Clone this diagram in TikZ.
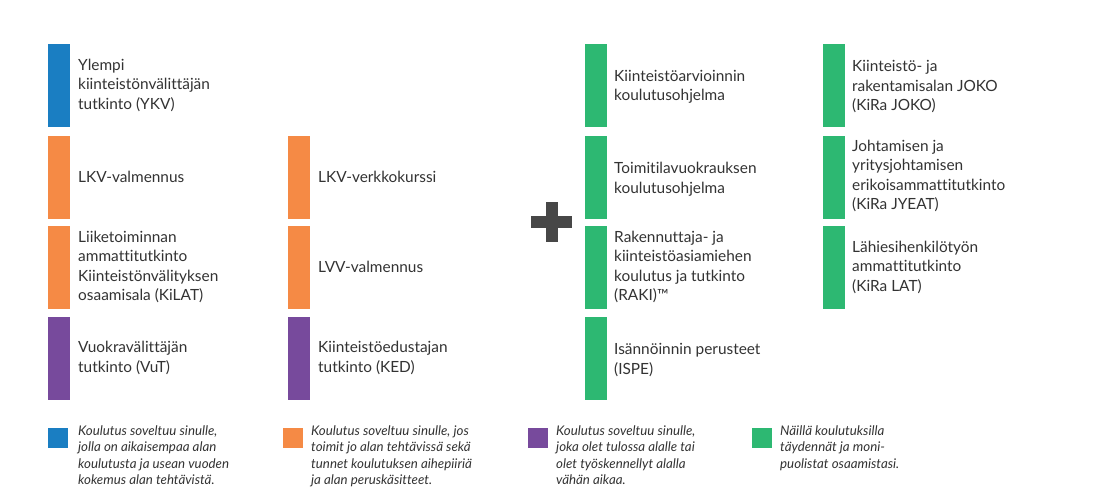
\documentclass[tikz,border=0pt]{standalone}
\usepackage{fontspec}
\setmainfont{Lato}[Ligatures=NoCommon]
\definecolor{cblue}{HTML}{1A7EC2}
\definecolor{corange}{HTML}{F58A45}
\definecolor{cpurple}{HTML}{774A9C}
\definecolor{cgreen}{HTML}{2DB872}
\definecolor{ctext}{HTML}{333333}
\begin{document}
\begin{tikzpicture}[x=1pt,y=-1pt,
  bar/.style={minimum width=22pt,minimum height=83pt,inner sep=0pt,anchor=north west},
  lbl/.style={anchor=west,align=left,text=ctext,font=\fontsize{15.4}{19.5}\selectfont,inner sep=0pt},
  sq/.style={minimum size=20pt,inner sep=0pt,anchor=north west},
  leg/.style={anchor=north west,align=left,text=ctext,font=\fontsize{13.3}{16.6}\selectfont\itshape,inner sep=0pt}]
\useasboundingbox[fill=white] (0,0) rectangle (1100,501);
% column 1
\node[bar,fill=cblue] (a1) at (48,44) {};
\node[lbl] at (78,85) {Ylempi\\kiinteistönvälittäjän\\tutkinto (YKV)};
\node[bar,fill=corange] (a2) at (48,136) {};
\node[lbl] at (78,177) {LKV-valmennus};
\node[bar,fill=corange] (a3) at (48,226) {};
\node[lbl] at (78,267) {Liiketoiminnan\\ammattitutkinto\\Kiinteistönvälityksen\\osaamisala (KiLAT)};
\node[bar,fill=cpurple] (a4) at (48,317) {};
\node[lbl] at (78,358) {Vuokravälittäjän\\tutkinto (VuT)};
% column 2
\node[bar,fill=corange] (b2) at (288,136) {};
\node[lbl] at (318,177) {LKV-verkkokurssi};
\node[bar,fill=corange] (b3) at (288,226) {};
\node[lbl] at (318,267) {LVV-valmennus};
\node[bar,fill=cpurple] (b4) at (288,317) {};
\node[lbl] at (318,358) {Kiinteistöedustajan\\tutkinto (KED)};
% plus
\fill[ctext!90] (531,216) rectangle (572,228);
\fill[ctext!90] (545.5,202) rectangle (557.5,242);
% column 3
\node[bar,fill=cgreen] (c1) at (585,44) {};
\node[lbl] at (614,87) {Kiinteistöarvioinnin\\koulutusohjelma};
\node[bar,fill=cgreen] (c2) at (585,136) {};
\node[lbl] at (614,179) {Toimitilavuokrauksen\\koulutusohjelma};
\node[bar,fill=cgreen] (c3) at (585,226) {};
\node[lbl] at (614,267) {Rakennuttaja- ja\\kiinteistöasiamiehen\\koulutus ja tutkinto\\(RAKI)™};
\node[bar,fill=cgreen] (c4) at (585,317) {};
\node[lbl] at (614,360) {Isännöinnin perusteet\\(ISPE)};
% column 4
\node[bar,fill=cgreen] (d1) at (823,44) {};
\node[lbl] at (852,87) {Kiinteistö- ja\\rakentamisalan JOKO\\(KiRa JOKO)};
\node[bar,fill=cgreen] (d2) at (823,136) {};
\node[lbl] at (852,176) {Johtamisen ja\\yritysjohtamisen\\erikoisammattitutkinto\\(KiRa JYEAT)};
\node[bar,fill=cgreen] (d3) at (823,226) {};
\node[lbl] at (852,267) {Lähiesihenkilötyön\\ammattitutkinto\\(KiRa LAT)};
% legend
\node[sq,fill=cblue] (l1) at (48,428) {};
\node[leg] at (78,425) {Koulutus soveltuu sinulle,\\jolla on aikaisempaa alan\\koulutusta ja usean vuoden\\kokemus alan tehtävistä.};
\node[sq,fill=corange] (l2) at (283,428) {};
\node[leg] at (311,425) {Koulutus soveltuu sinulle, jos\\toimit jo alan tehtävissä sekä\\tunnet koulutuksen aihepiiriä\\ja alan peruskäsitteet.};
\node[sq,fill=cpurple] (l3) at (528,428) {};
\node[leg] at (556,425) {Koulutus soveltuu sinulle,\\joka olet tulossa alalle tai\\olet työskennellyt alalla\\vähän aikaa.};
\node[sq,fill=cgreen] (l4) at (752,428) {};
\node[leg] at (780,425) {Näillä koulutuksilla\\täydennät ja moni-\\puolistat osaamistasi.};
\end{tikzpicture}
\end{document}
